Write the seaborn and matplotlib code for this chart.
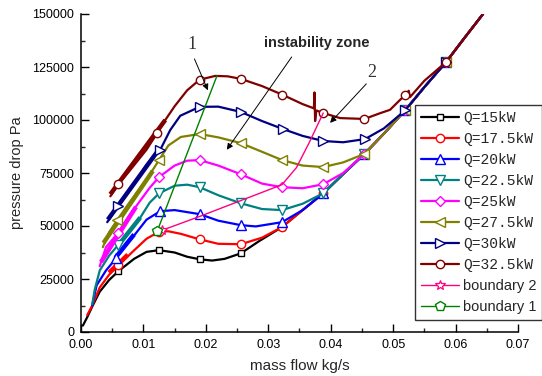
import numpy as np
import pandas as pd
import matplotlib
matplotlib.use("Agg")
import matplotlib.pyplot as plt
import seaborn as sns

# ---------------- data ----------------
tail_x = [0.0355, 0.0388, 0.042, 0.0454, 0.0485, 0.0519, 0.055, 0.0585, 0.0615, 0.0644]
tail_y = [57500, 65400, 74500, 84000, 93500, 104500, 115500, 127400, 139000, 150000]

q15_x = [0.0003, 0.001, 0.0018, 0.003, 0.0045, 0.006, 0.0085, 0.0105, 0.0125, 0.015, 0.017,
         0.019, 0.021, 0.023, 0.0256, 0.0285, 0.0322] + tail_x
q15_y = [3000, 7000, 12000, 19000, 24500, 28700, 34500, 37800, 38600, 37500, 35500,
         34300, 33700, 34500, 37100, 42800, 49500] + tail_y

q175_x = [0.001, 0.0018, 0.003, 0.0045, 0.006, 0.0085, 0.0105, 0.0125, 0.014, 0.016, 0.019,
          0.022, 0.0256, 0.029, 0.0322] + tail_x
q175_y = [8000, 12500, 21000, 27000, 31400, 38500, 44000, 47300, 47500, 46300, 43700,
          41600, 41400, 44500, 49500] + tail_y

q20_x = [0.0018, 0.0025, 0.004, 0.0056, 0.007, 0.0085, 0.0105, 0.0127, 0.015, 0.019, 0.022,
         0.0256, 0.028, 0.0322] + tail_x
q20_y = [12500, 22000, 29000, 34700, 40000, 45500, 53000, 57000, 57500, 55600, 52500,
         50400, 49800, 51800] + tail_y

q225_x = [0.0018, 0.0022, 0.003, 0.0045, 0.0059, 0.0075, 0.0095, 0.011, 0.0125, 0.015, 0.017,
          0.019, 0.022, 0.0256, 0.029, 0.0322, 0.0355] + tail_x[1:]
q225_y = [13000, 20000, 29000, 36000, 40900, 47000, 54000, 61000, 65400, 69000, 69500,
          68300, 64500, 60700, 58000, 57500, 60500] + tail_y[1:]

q25_x = [0.003, 0.004, 0.0059, 0.0075, 0.0095, 0.011, 0.0125, 0.015, 0.017, 0.019, 0.022,
         0.0256, 0.029, 0.0322, 0.0355, 0.0388, 0.042] + tail_x[3:]
q25_y = [31000, 40000, 46600, 54000, 62000, 68000, 73100, 78500, 80800, 81100, 78500,
         74400, 70000, 68300, 67800, 69700, 75000] + tail_y[3:]

q275_x = [0.0035, 0.0045, 0.0058, 0.0075, 0.009, 0.0105, 0.0115, 0.0125, 0.014, 0.016, 0.019,
          0.022, 0.0256, 0.029, 0.0322, 0.0355, 0.0388, 0.042] + tail_x[3:]
q275_y = [40000, 47000, 52800, 60000, 66000, 72000, 76500, 81100, 88000, 92000, 93400,
          91800, 89100, 85000, 81100, 78500, 77800, 80000] + tail_y[3:]

q30_x = [0.0042, 0.0059, 0.0075, 0.009, 0.0105, 0.0127, 0.0143, 0.0159, 0.019, 0.022, 0.0256,
         0.029, 0.0323, 0.0355, 0.0388, 0.042, 0.0455, 0.0485] + tail_x[5:]
q30_y = [51800, 59300, 65500, 72000, 79000, 86000, 95300, 102000, 106200, 106300, 103800,
         99500, 95800, 92500, 90100, 89500, 91000, 96000] + tail_y[5:]

q325_x = [0.0047, 0.006, 0.0075, 0.009, 0.0105, 0.0122, 0.0135, 0.015, 0.017, 0.019, 0.0215,
          0.0235, 0.0256, 0.029, 0.0322, 0.0355, 0.0373, 0.0374, 0.0375, 0.0377, 0.0388, 0.0415,
          0.0454, 0.048, 0.0495, 0.0519, 0.0525, 0.0527, 0.055, 0.0585, 0.0615, 0.0644]
q325_y = [64000, 69800, 75000, 80500, 86000, 93800, 100000, 106500, 114000, 119000, 120800,
          120600, 119400, 116000, 112000, 107500, 105500, 113000, 99500, 104500, 103300, 100900,
          100500, 103300, 104800, 111800, 113800, 110800, 118500, 127400, 139000, 150000]

# unstable (noisy) low-flow segments
band_q175_x = [0.0045, 0.0075]; band_q175_y = [28000, 36500]
band_q20_x = [0.0055, 0.0085]; band_q20_y = [35000, 46000]
band_q225_x = [0.006, 0.0095]; band_q225_y = [41000, 54000]
band_q25_x = [0.0032, 0.0088]; band_q25_y = [33000, 59000]
band_q275_x = [0.0036, 0.0115]; band_q275_y = [42000, 76000]
band_q30_x = [0.0043, 0.0122]; band_q30_y = [53000, 85000]
band_q325_x = [0.0047, 0.0135]; band_q325_y = [65000, 100000]

b2_x = [0.013, 0.019, 0.0256, 0.0322, 0.0345, 0.0365, 0.0388]
b2_y = [48000, 54500, 62000, 69500, 77500, 89000, 103300]
b1_x = [0.0122, 0.0218]
b1_y = [47500, 121000]

marker_x = [0.006, 0.0125, 0.019, 0.0256, 0.0322, 0.0388, 0.0454, 0.0519, 0.0585]

labels = ["Q=15kW", "Q=17.5kW", "Q=20kW", "Q=22.5kW", "Q=25kW", "Q=27.5kW",
          "Q=30kW", "Q=32.5kW", "boundary 2", "boundary 1"]

x_ticks = [0.00, 0.01, 0.02, 0.03, 0.04, 0.05, 0.06, 0.07]
y_ticks = [0, 25000, 50000, 75000, 100000, 125000, 150000]

# ---------------- styling ----------------
sns.set_style("ticks")
plt.rcParams["font.family"] = ["Liberation Sans", "DejaVu Sans"]

fig = plt.figure(figsize=(5.42, 3.76), dpi=100)
ax = fig.add_axes([81 / 542, 1 - 332 / 376, (518 - 81) / 542, (332 - 14) / 376])

series = [
    (q15_x, q15_y, None, None, "black", "s", 5),
    (q175_x, q175_y, band_q175_x, band_q175_y, "#ff0000", "o", 6),
    (q20_x, q20_y, band_q20_x, band_q20_y, "#0000ff", "^", 6.5),
    (q225_x, q225_y, band_q225_x, band_q225_y, "#008080", "v", 6.5),
    (q25_x, q25_y, band_q25_x, band_q25_y, "#ff00ff", "D", 5),
    (q275_x, q275_y, band_q275_x, band_q275_y, "#808000", "<", 6.5),
    (q30_x, q30_y, band_q30_x, band_q30_y, "#000080", ">", 6.5),
    (q325_x, q325_y, band_q325_x, band_q325_y, "#800000", "o", 6),
]


def mark_idx(xs, mx):
    xs = np.asarray(xs)
    out = []
    for m in mx:
        i = int(np.argmin(np.abs(xs - m)))
        if abs(xs[i] - m) < 0.0006:
            out.append(i)
    return sorted(set(out))


for (xs, ys, bx, by, col, mk, ms), lab in zip(series, labels[:8]):
    df = pd.DataFrame({"x": xs, "y": ys})
    if bx is not None:
        sns.lineplot(x=bx, y=by, ax=ax, color=col, lw=3.2, sort=False,
                     estimator=None, legend=False, solid_capstyle="butt")
    sns.lineplot(data=df, x="x", y="y", ax=ax, color=col, lw=1.6, sort=False,
                 estimator=None, marker=mk, markevery=mark_idx(xs, marker_x),
                 mfc="white", mec=col, mew=1.0, ms=ms, label=lab)

sns.lineplot(x=b2_x, y=b2_y, ax=ax, color="#ff0080", lw=1.0, sort=False, estimator=None,
             marker="*", markevery=[0], mfc="white", mec="#ff0080", mew=0.9, ms=7,
             label=labels[8])
sns.lineplot(x=b1_x, y=b1_y, ax=ax, color="#008000", lw=1.0, sort=False, estimator=None,
             marker="p", markevery=[0], mfc="white", mec="#008000", mew=1.0, ms=7,
             label=labels[9])

ax.set_xlim(0, 0.07)
ax.set_ylim(0, 150000)
ax.set_xticks(x_ticks)
ax.set_xticklabels([f"{v:.2f}" for v in x_ticks])
ax.set_yticks(y_ticks)
ax.set_yticklabels([str(v) for v in y_ticks])
ax.set_xticks(np.arange(0.005, 0.07, 0.01), minor=True)
ax.set_yticks(np.arange(12500, 150000, 25000), minor=True)
ax.tick_params(which="major", direction="in", length=6, width=1.0, labelsize=9, pad=5,
               colors="black")
ax.tick_params(which="minor", direction="in", length=3, width=1.0)
for s in ["top", "right"]:
    ax.spines[s].set_visible(False)
for s in ["left", "bottom"]:
    ax.spines[s].set_linewidth(1.1)
    ax.spines[s].set_color("black")

ax.set_xlabel("mass flow kg/s", fontsize=11, labelpad=6)
ax.set_ylabel("pressure drop Pa", fontsize=10.5, labelpad=6)

# annotations
ax.text(0.0378, 136400, "instability zone", fontsize=10.5, fontweight="bold",
        ha="center", va="center")
ax.annotate("", xy=(0.0231, 84900), xytext=(0.0340, 130800),
            arrowprops=dict(arrowstyle="-|>", color="black", lw=0.7, mutation_scale=9))
ax.text(0.0178, 135500, "1", fontsize=13, family="Liberation Serif",
        ha="center", va="center", color="#333333")
ax.annotate("", xy=(0.0205, 112800), xytext=(0.0180, 130000),
            arrowprops=dict(arrowstyle="-|>", color="black", lw=0.7, mutation_scale=9))
ax.text(0.0465, 122500, "2", fontsize=13, family="Liberation Serif",
        ha="center", va="center", color="#333333")
ax.annotate("", xy=(0.0396, 97700), xytext=(0.0460, 118000),
            arrowprops=dict(arrowstyle="-|>", color="black", lw=0.7, mutation_scale=9))

leg = ax.legend(loc="upper left", bbox_to_anchor=(415 / 542, 1 - 105 / 376),
                bbox_transform=fig.transFigure, borderaxespad=0, numpoints=1,
                handlelength=2.6, handletextpad=0.3, labelspacing=0.48,
                borderpad=0.4, frameon=True, fancybox=False, fontsize=10.5)
leg.get_frame().set_edgecolor("black")
leg.get_frame().set_linewidth(1.0)
for t in leg.get_texts():
    if t.get_text().startswith("Q="):
        t.set_fontfamily("Liberation Mono")
        t.set_fontsize(10.5)
    else:
        t.set_fontfamily("Liberation Sans")
        t.set_fontsize(10.5)

fig.savefig("out.png", dpi=100)
